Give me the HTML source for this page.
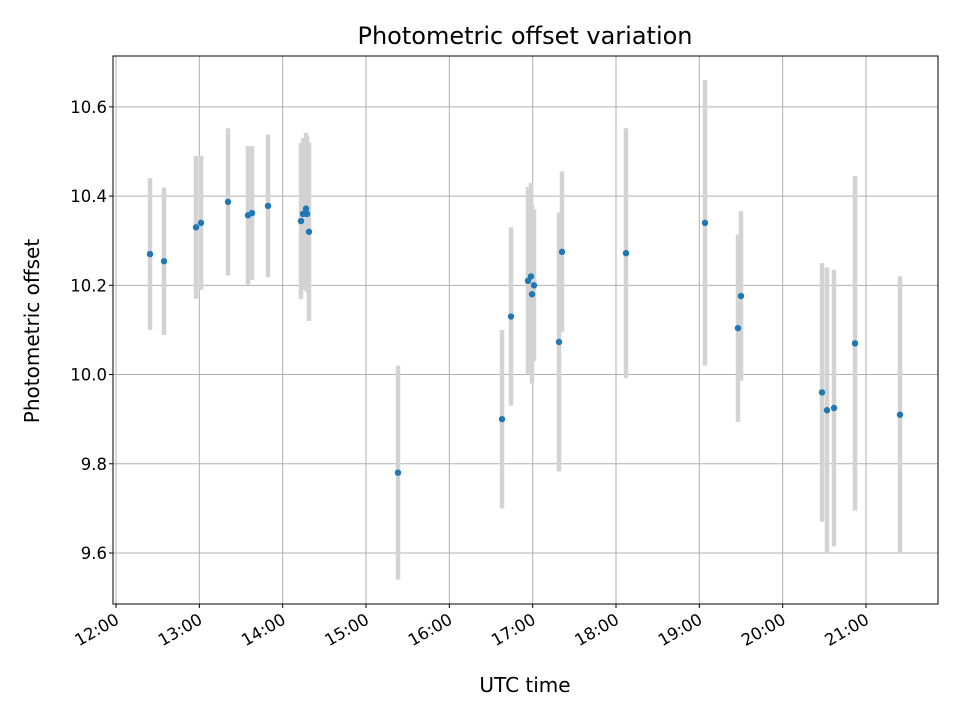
<!DOCTYPE html>
<html><head><meta charset="utf-8"><style>
body{margin:0;background:#fff;font-family:"Liberation Sans","DejaVu Sans",sans-serif}
svg text{font-family:"DejaVu Sans","Liberation Sans",sans-serif;fill:#000}
</style></head><body>
<svg id="chart" width="960" height="720" xmlns="http://www.w3.org/2000/svg">
<rect width="960" height="720" fill="#fff"/>
<g id="grid"></g><g id="bars"></g><g id="pts"></g><g id="axes"></g>
<text x="525" y="44" font-size="24" text-anchor="middle">Photometric offset variation</text>
<text x="525" y="692" font-size="20" text-anchor="middle">UTC time</text>
<text transform="translate(39,331) rotate(-90)" font-size="20" text-anchor="middle">Photometric offset</text>
</svg>
<script>
const times=[12.408,12.576,12.96,13.02,13.344,13.584,13.632,13.824,14.22,14.244,14.28,14.292,14.316,15.384,16.632,16.74,16.944,16.98,17.016,16.992,17.316,17.352,18.12,19.068,19.464,19.5,20.472,20.532,20.616,20.868,21.408];
const offsets=[10.27,10.254,10.33,10.34,10.387,10.357,10.362,10.378,10.344,10.36,10.372,10.36,10.32,9.78,9.90,10.13,10.21,10.22,10.20,10.18,10.073,10.275,10.272,10.34,10.104,10.176,9.96,9.92,9.925,10.07,9.91];
const errors=[0.17,0.165,0.16,0.15,0.165,0.155,0.15,0.16,0.175,0.17,0.17,0.175,0.2,0.24,0.2,0.2,0.21,0.21,0.17,0.2,0.29,0.18,0.28,0.32,0.21,0.19,0.29,0.32,0.31,0.375,0.31];
const xTicks=[12,13,14,15,16,17,18,19,20,21];
const xTickLabels=["12:00","13:00","14:00","15:00","16:00","17:00","18:00","19:00","20:00","21:00"];
const yTicks=[9.6,9.8,10.0,10.2,10.4,10.6];
const yTickLabels=["9.6","9.8","10.0","10.2","10.4","10.6"];
const L=113,R=938,T=56,B=604,xmin=11.964,xmax=21.864,ymin=9.4857,ymax=10.714;
const X=v=>L+(v-xmin)/(xmax-xmin)*(R-L);
const Y=v=>B-(v-ymin)/(ymax-ymin)*(B-T);
const NS="http://www.w3.org/2000/svg";
function mk(t,a,p){const e=document.createElementNS(NS,t);for(const k in a)e.setAttribute(k,a[k]);p.appendChild(e);return e;}
const grid=document.getElementById('grid'),axes=document.getElementById('axes'),bars=document.getElementById('bars'),pts=document.getElementById('pts');
xTicks.forEach((t,i)=>{const x=X(t);
 const g=mk('line',{x1:x,x2:x,y1:T,y2:B,stroke:'#b0b0b0','stroke-width':1},grid);
 
 mk('line',{x1:x,x2:x,y1:B,y2:B+4,stroke:'#000'},axes);
 const ax=x-2, ay=B+8;
 const tx=mk('text',{x:ax,y:ay,'font-size':16.5,'text-anchor':'end',transform:`rotate(-30 ${ax} ${ay})`,dy:'0.75em'},axes);
 tx.textContent=xTickLabels[i];
 });
yTicks.forEach((t,i)=>{const y=Y(t);
 const g=mk('line',{x1:L,x2:R,y1:y,y2:y,stroke:'#b0b0b0','stroke-width':1},grid);
 
 mk('line',{x1:L-4,x2:L,y1:y,y2:y,stroke:'#000'},axes);
 const tx=mk('text',{x:L-6,y:y+6,'font-size':16.5,'text-anchor':'end'},axes);
 tx.textContent=yTickLabels[i];
 });
const fr=mk('rect',{x:L,y:T,width:R-L,height:B-T,fill:'none',stroke:'#000','stroke-width':1},axes);

times.forEach((t,i)=>{const x=X(t);
 const b=mk('line',{x1:x,x2:x,y1:Y(offsets[i]+errors[i]),y2:Y(offsets[i]-errors[i]),stroke:'#d3d3d3','stroke-width':4.5},bars);
 
 const c=mk('circle',{cx:x,cy:Y(offsets[i]),r:3.2,fill:'#1f77b4'},pts);
 });
</script>
</body></html>
